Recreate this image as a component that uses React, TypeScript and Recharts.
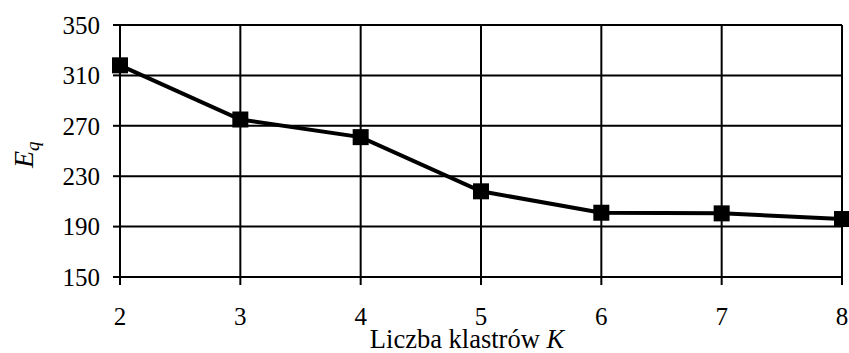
import React from 'react';
import { LineChart, Line, XAxis, YAxis, CartesianGrid, Label } from 'recharts';

const categories = [2, 3, 4, 5, 6, 7, 8];
const eqValues = [318, 275, 261, 218, 201, 200.5, 196];
const xTicks = [2, 3, 4, 5, 6, 7, 8];
const yTicks = [150, 190, 230, 270, 310, 350];

const data = categories.map((k, i) => ({ k, eq: eqValues[i] }));

const FONT = '"Liberation Serif", "Times New Roman", serif';

const SquareDot = (props: any) => {
  const { cx, cy } = props;
  if (cx == null || cy == null) return null;
  return <rect key={`d-${cx}`} x={cx - 8} y={cy - 8} width={16} height={16} fill="#000" />;
};

const XLabel = (props: any) => {
  const vb = props.viewBox || {};
  const cx = vb.x + vb.width / 2 - 14;
  return (
    <text x={cx} y={348} textAnchor="middle" fontFamily={FONT} fontSize={26.5} fill="#000">
      Liczba klastrów <tspan fontStyle="italic">K</tspan>
    </text>
  );
};

const YLabel = () => {
  return (
    <text
      transform="translate(33,168) rotate(-90)"
      x={0}
      y={0}
      textAnchor="start"
      fontFamily={FONT}
      fontSize={28}
      fontStyle="italic"
      fill="#000"
    >
      E<tspan fontSize={19} dy={6}>q</tspan>
    </text>
  );
};

export default function App() {
  return (
    <div style={{ width: 849, height: 353, background: '#fff' }}>
      <style>{`body{margin:0;background:#fff}`}</style>
      <LineChart
        width={849}
        height={353}
        data={data}
        margin={{ top: 25, right: 7, bottom: 0, left: 0 }}
      >
        <CartesianGrid stroke="#000" strokeWidth={2} />
        <XAxis
          dataKey="k"
          type="number"
          domain={[2, 8]}
          ticks={xTicks}
          height={76}
          tickSize={8}
          tickMargin={22}
          axisLine={{ stroke: '#000', strokeWidth: 2 }}
          tickLine={{ stroke: '#000', strokeWidth: 2 }}
          tick={{ fill: '#000', fontFamily: FONT, fontSize: 25 }}
          interval={0}
        >
          <Label content={<XLabel />} />
        </XAxis>
        <YAxis
          type="number"
          domain={[150, 350]}
          ticks={yTicks}
          width={120}
          tickSize={7}
          tickMargin={13}
          axisLine={{ stroke: '#000', strokeWidth: 2 }}
          tickLine={{ stroke: '#000', strokeWidth: 2 }}
          tick={{ fill: '#000', fontFamily: FONT, fontSize: 25 }}
          interval={0}
        >
          <Label content={<YLabel />} />
        </YAxis>
        <Line
          dataKey="eq"
          stroke="#000"
          strokeWidth={4}
          dot={<SquareDot />}
          activeDot={false}
          isAnimationActive={false}
        />
      </LineChart>
    </div>
  );
}
